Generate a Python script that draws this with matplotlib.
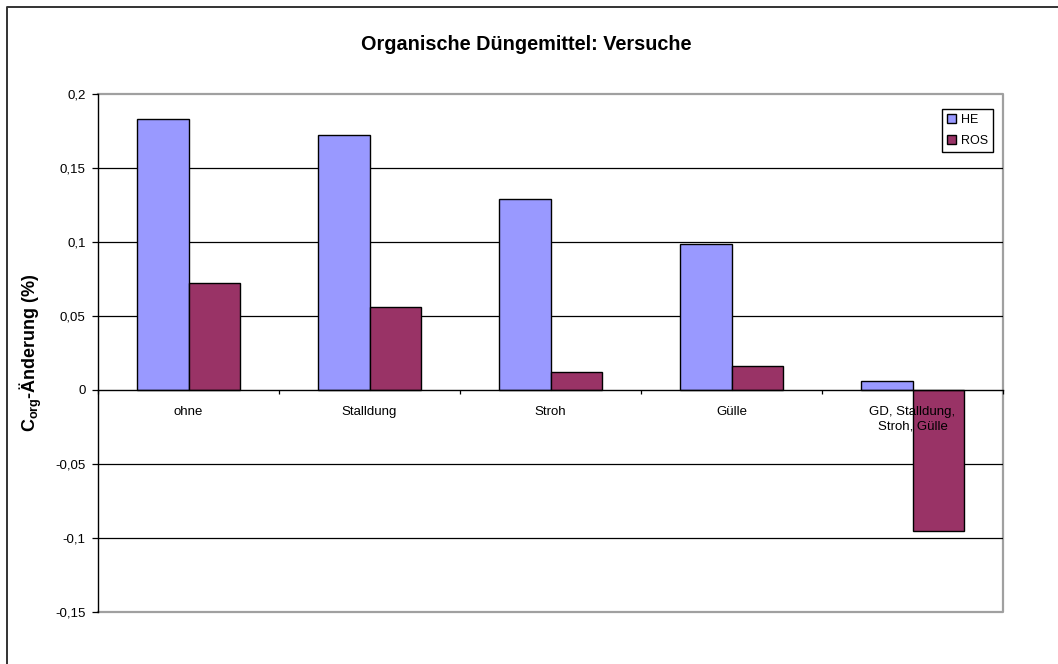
import matplotlib.pyplot as plt
import numpy as np
from matplotlib.lines import Line2D

plt.rcParams['font.family'] = ['Liberation Sans', 'DejaVu Sans']
plt.rcParams['mathtext.default'] = 'regular'

categories = ["ohne", "Stalldung", "Stroh", "Gülle", "GD, Stalldung,\nStroh, Gülle"]
he_values = [0.183, 0.172, 0.129, 0.0985, 0.0063]
ros_values = [0.072, 0.056, 0.012, 0.0165, -0.095]
series_names = ["HE", "ROS"]
y_ticks = [-0.15, -0.1, -0.05, 0, 0.05, 0.1, 0.15, 0.2]
y_tick_labels = ["-0,15", "-0,1", "-0,05", "0", "0,05", "0,1", "0,15", "0,2"]

HE_COLOR = '#9999ff'
ROS_COLOR = '#993366'


def main():
    fig = plt.figure(figsize=(10.58, 6.64), dpi=100)
    ax = fig.add_axes([98 / 1058, 1 - 612 / 664, 905 / 1058, 518 / 664])

    x = np.arange(len(categories))
    w = 2 / 7
    ax.bar(x - w / 2, he_values, w, color=HE_COLOR, edgecolor='black',
           linewidth=1, label=series_names[0], zorder=3)
    ax.bar(x + w / 2, ros_values, w, color=ROS_COLOR, edgecolor='black',
           linewidth=1, label=series_names[1], zorder=3)

    ax.set_xlim(-0.5, len(categories) - 0.5)
    ax.set_ylim(-0.15, 0.2)

    # gridlines
    for yv in y_ticks:
        if yv not in (0, -0.15, 0.2):
            ax.axhline(yv, color='black', linewidth=0.9, zorder=1)

    ax.set_yticks(y_ticks)
    ax.set_yticklabels(y_tick_labels, fontsize=9.5)
    ax.tick_params(axis='y', direction='out', length=4, width=0.9, pad=5)

    # category axis sits on zero, labels drawn over the bars
    ax.spines['bottom'].set_position(('data', 0))
    ax.spines['bottom'].set_zorder(5)
    ax.spines['bottom'].set_linewidth(1)
    ax.spines['left'].set_linewidth(1)
    ax.spines['top'].set_visible(False)
    ax.spines['right'].set_visible(False)
    ax.xaxis.set_zorder(6)
    ax.set_xticks(np.arange(-0.5, len(categories), 1))
    ax.set_xticklabels([])
    ax.set_xticks(x, minor=True)
    ax.set_xticklabels(categories, minor=True, fontsize=9.5)
    ax.tick_params(axis='x', which='major', direction='out', length=3, width=0.9)
    ax.tick_params(axis='x', which='minor', length=0, pad=11.5)
    for lbl in ax.get_xticklabels(minor=True):
        lbl.set_linespacing(1.25)

    # plot area border
    ax.add_line(Line2D([0, 1, 1, 0], [0, 0, 1, 1], transform=ax.transAxes,
                       color='#a0a0a0', linewidth=1.6, clip_on=False, zorder=0))

    ax.set_ylabel('C$_{org}$-Änderung (%)', fontsize=13, fontweight='bold', labelpad=8)
    fig.text(0.4972, 1 - 45 / 664, 'Organische Düngemittel: Versuche', fontsize=14.3,
             fontweight='bold', ha='center', va='center')

    leg = ax.legend(loc='upper right', bbox_to_anchor=(0.989, 0.971), fontsize=9,
                    fancybox=False, framealpha=1, edgecolor='black',
                    handlelength=0.7, handleheight=0.7, handletextpad=0.4,
                    borderpad=0.4, labelspacing=0.7, borderaxespad=0)
    leg.get_frame().set_linewidth(1)

    # chart area border (left and top edges visible)
    fig.add_artist(Line2D([7 / 1058, 7 / 1058, 1.0], [0.0, 1 - 7 / 664, 1 - 7 / 664],
                          color='#333333', linewidth=1.4))

    plt.savefig('out.png', dpi=100)


if __name__ == "__main__":
    main()
